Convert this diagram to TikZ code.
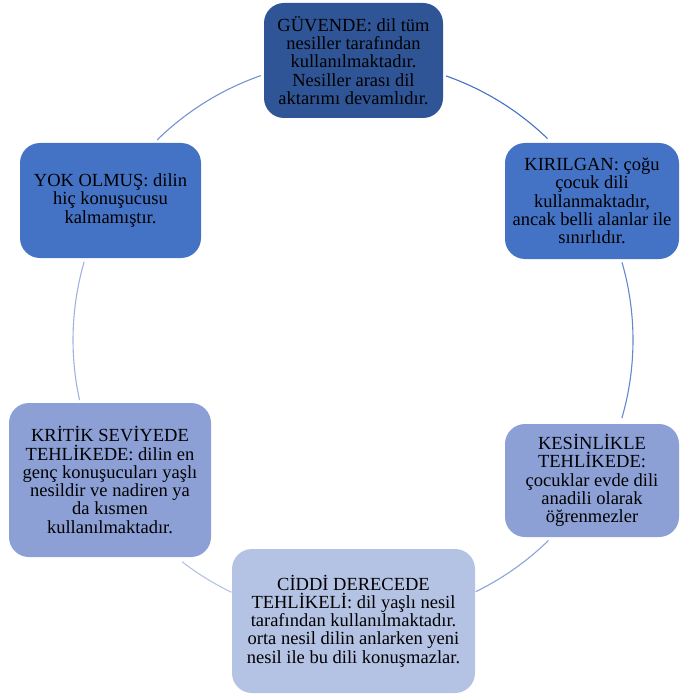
\documentclass[tikz,border=0pt]{standalone}
\usepackage{fontspec}
\setmainfont{Liberation Serif}
\definecolor{cA}{RGB}{47,85,151}
\definecolor{cB}{RGB}{68,114,196}
\definecolor{cC}{RGB}{140,160,214}
\definecolor{cD}{RGB}{180,194,228}
\definecolor{aA}{RGB}{68,114,196}
\definecolor{aB}{RGB}{100,135,205}
\definecolor{aC}{RGB}{140,162,216}
\definecolor{aD}{RGB}{180,194,228}
\definecolor{aE}{RGB}{160,178,224}
\definecolor{aF}{RGB}{118,146,212}
\begin{document}
\begin{tikzpicture}[x=1pt,y=-1pt,
  box/.style={rounded corners=20pt, align=center, inner sep=0pt, text=black,
    font=\fontsize{18.5}{18.3}\selectfont},
  arcline/.style={line width=1.1pt}]
\useasboundingbox (0,0) rectangle (679,695);
\coordinate (c) at (353,340);
% arcs
\draw[arcline, aA] (c) ++(-70.6:280) arc[start angle=-70.6, end angle=-46, radius=280];
\draw[arcline, aB] (c) ++(-16.1:280) arc[start angle=-16.1, end angle=16.2, radius=280];
\draw[arcline, aC] (c) ++(45.7:280) arc[start angle=45.7, end angle=64, radius=280];
\draw[arcline, aD] (c) ++(115.7:280) arc[start angle=115.7, end angle=127.6, radius=280];
\draw[arcline, aE] (c) ++(-163.8:280) arc[start angle=-163.8, end angle=-192.4, radius=280];
\draw[arcline, aF] (c) ++(-134.4:280) arc[start angle=-134.4, end angle=-109.2, radius=280];
% boxes
\node[box, fill=cA, minimum width=179pt, minimum height=115pt] (guv) at (353.5,60.5)
  {GÜVENDE: dil tüm\\nesiller tarafından\\kullanılmaktadır.\\Nesiller arası dil\\aktarımı devamlıdır.};
\node[box, fill=cB, minimum width=174pt, minimum height=116pt] (kir) at (592,201)
  {KIRILGAN: çoğu\\çocuk dili\\kullanmaktadır,\\ancak belli alanlar ile\\sınırlıdır.};
\node[box, fill=cC, minimum width=174pt, minimum height=113pt] (kes) at (592,480.5)
  {KESİNLİKLE\\TEHLİKEDE:\\çocuklar evde dili\\anadili olarak\\öğrenmezler};
\node[box, fill=cD, minimum width=243pt, minimum height=144pt] (cid) at (353.5,621)
  {CİDDİ DERECEDE\\TEHLİKELİ: dil yaşlı nesil\\tarafından kullanılmaktadır.\\orta nesil dilin anlarken yeni\\nesil ile bu dili konuşmazlar.};
\node[box, fill=cC, minimum width=202pt, minimum height=154pt] (kri) at (110,480)
  {KRİTİK SEVİYEDE\\TEHLİKEDE: dilin en\\genç konuşucuları yaşlı\\nesildir ve nadiren ya\\da kısmen\\kullanılmaktadır.};
\node[box, fill=cB, minimum width=181pt, minimum height=115pt] (yok) at (110.5,200.5)
  {YOK OLMUŞ: dilin\\hiç konuşucusu\\kalmamıştır.};
\end{tikzpicture}
\end{document}
